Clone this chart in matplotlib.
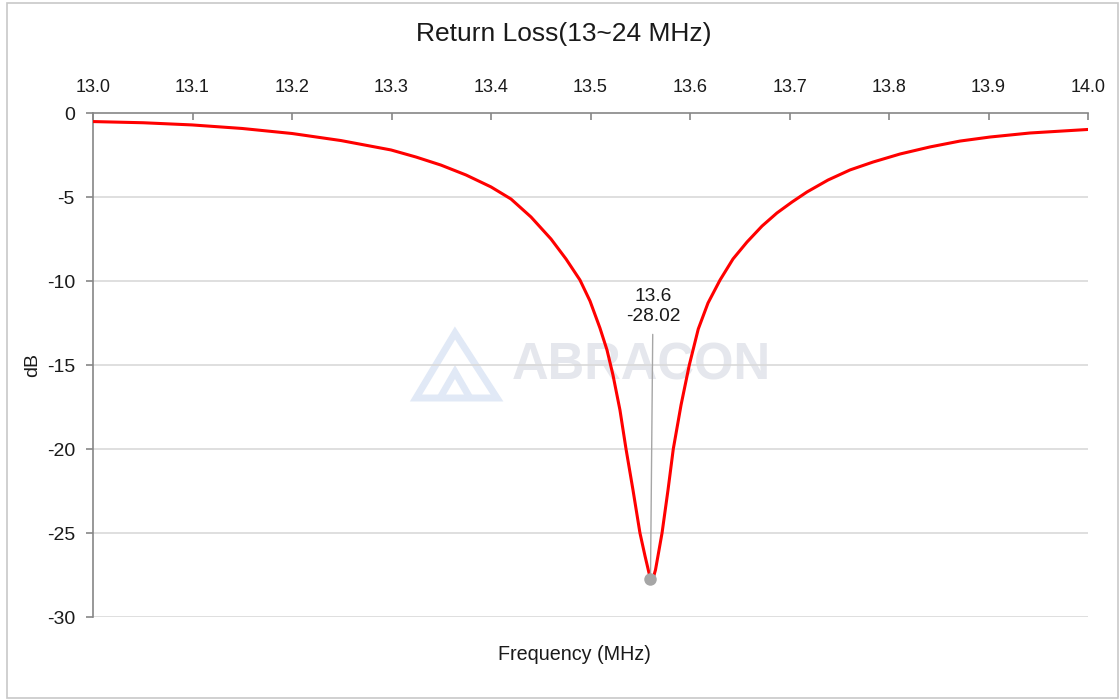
import matplotlib
matplotlib.use("Agg")
import matplotlib.pyplot as plt
from matplotlib.patches import Rectangle, Polygon

# ---- data ----
freq_mhz = [13.0000, 13.0503, 13.0995, 13.1497, 13.2000, 13.2492, 13.2995, 13.3246,
            13.3497, 13.3749, 13.4000, 13.4201, 13.4402, 13.4603, 13.4754, 13.4894,
            13.4995, 13.5095, 13.5166, 13.5226, 13.5296, 13.5357, 13.5427, 13.5497,
            13.5548, 13.5588, 13.5603, 13.5633, 13.5653, 13.5678, 13.5719, 13.5779,
            13.5832, 13.5910, 13.5993, 13.6083, 13.6181, 13.6302, 13.6432, 13.6573,
            13.6724, 13.6874, 13.7025, 13.7176, 13.7387, 13.7608, 13.7839, 13.8111,
            13.8412, 13.8714, 13.9015, 13.9417, 14.0000]
return_loss_db = [-0.51, -0.58, -0.71, -0.92, -1.22, -1.64, -2.20, -2.62,
                  -3.10, -3.69, -4.40, -5.12, -6.19, -7.50, -8.69, -9.94,
                  -11.19, -12.80, -14.11, -15.60, -17.68, -20.00, -22.44, -25.00,
                  -26.37, -27.38, -27.71, -27.62, -27.20, -26.37, -25.00, -22.44,
                  -20.00, -17.38, -15.00, -12.86, -11.31, -9.94, -8.69, -7.68,
                  -6.73, -5.95, -5.30, -4.70, -3.99, -3.39, -2.92, -2.44,
                  -2.02, -1.67, -1.43, -1.19, -0.98]
peak_freq = 13.5603
peak_db = -27.71
peak_label = "13.6\n-28.02"

x_ticks = [13.0, 13.1, 13.2, 13.3, 13.4, 13.5, 13.6, 13.7, 13.8, 13.9, 14.0]
y_ticks = [0, -5, -10, -15, -20, -25, -30]

title = "Return Loss(13~24 MHz)"
x_label = "Frequency (MHz)"
y_label = "dB"
watermark = "ABRACON"

plt.rcParams['font.family'] = ['Liberation Sans', 'DejaVu Sans']

W, H = 1120, 700
fig = plt.figure(figsize=(W / 100, H / 100), dpi=100)
fig.patch.set_facecolor('white')

ax = fig.add_axes([93 / W, 1 - 617 / H, (1088 - 93) / W, (617 - 113) / H])
ax.set_xlim(13.0, 14.0)
ax.set_ylim(-30, 0)

# grid
for yv in y_ticks[1:]:
    ax.axhline(yv, color='#d9d9d9', lw=1.2, zorder=1)

# spines
for s in ['bottom', 'right']:
    ax.spines[s].set_visible(False)
for s in ['top', 'left']:
    ax.spines[s].set_color('#868686')
    ax.spines[s].set_linewidth(1.2)

ax.xaxis.tick_top()
ax.set_xticks(x_ticks)
ax.set_xticklabels([f"{v:.1f}" for v in x_ticks])
ax.tick_params(axis='x', direction='in', length=5, color='#868686', width=1.2,
               labelsize=13, pad=12, labelcolor='#1a1a1a')
ax.set_yticks(y_ticks)
ax.set_yticklabels([str(v) for v in y_ticks])
ax.tick_params(axis='y', direction='out', length=5, color='#868686', width=1.2,
               labelsize=14, pad=8, labelcolor='#1a1a1a')

# watermark (logo + text)
tri_outer = [(416, 398), (455, 333), (497, 398)]
ax.add_artist(Polygon([(x / W, 1 - y / H) for x, y in tri_outer], closed=True,
                      fill=False, edgecolor='#e1e9f6', lw=5,
                      transform=fig.transFigure, zorder=0.5))
tri_inner = [(440, 398), (455, 372), (470, 398)]
ax.add_artist(Polygon([(x / W, 1 - y / H) for x, y in tri_inner], closed=False,
                      fill=False, edgecolor='#e1e9f6', lw=5,
                      transform=fig.transFigure, zorder=0.5))
ax.text(641 / W, 1 - 366 / H, watermark, transform=fig.transFigure, fontsize=36.5,
        fontweight='bold', color='#e5e7ed', ha='center', va='center', zorder=0.6)

# curve
ax.plot(freq_mhz, return_loss_db, color='#ff0000', lw=2.2, zorder=3,
        solid_joinstyle='round', solid_capstyle='round')

# peak marker and label
ax.plot([peak_freq], [peak_db], 'o', color='#a6a6a6', ms=9, zorder=4, mec='none')
ax.annotate(peak_label, xy=(peak_freq, peak_db), xytext=(peak_freq + 0.0025, -12.6),
            ha='center', va='bottom', fontsize=13.8, color='#1a1a1a', linespacing=1.2,
            arrowprops=dict(arrowstyle='-', color='#a6a6a6', lw=1.0,
                            shrinkA=5, shrinkB=0), zorder=4)

fig.text(564 / W, 1 - 34 / H, title, ha='center', va='center', fontsize=19,
         color='#1a1a1a')
fig.text(574 / W, 1 - 654 / H, x_label, ha='center', va='center', fontsize=14.2,
         color='#1a1a1a')
fig.text(33 / W, 1 - 365 / H, y_label, ha='center', va='center', fontsize=14,
         rotation=90, color='#1a1a1a')

# figure border
fig.add_artist(Rectangle((7 / W, 2 / H), (W - 9) / W, (H - 5) / H,
                         transform=fig.transFigure, fill=False,
                         edgecolor='#c8c8c8', lw=1.2))

fig.savefig("out.png", dpi=100, facecolor='white')
